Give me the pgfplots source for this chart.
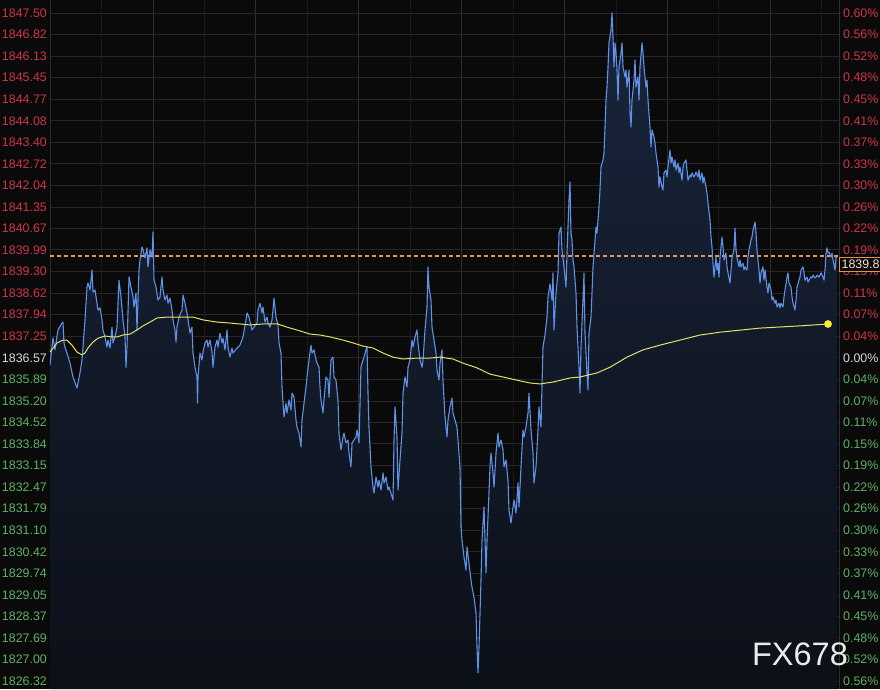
\documentclass[border=0pt]{standalone}
\usepackage{fontspec}
\setmainfont{Liberation Sans}
\usepackage{pgfplots}
\pgfplotsset{compat=1.18}
\usepackage{pgfplotstable}
\definecolor{bg}{RGB}{10,10,10}
\definecolor{gridh}{RGB}{38,38,38}
\definecolor{gridv}{RGB}{46,46,46}
\definecolor{gridm}{RGB}{26,26,26}
\definecolor{upred}{RGB}{208,52,70}
\definecolor{dngreen}{RGB}{92,178,100}
\definecolor{neutral}{RGB}{215,215,215}
\definecolor{lineblue}{RGB}{95,145,230}
\definecolor{filltop}{RGB}{25,37,60}
\definecolor{fillbot}{RGB}{12,16,24}
\definecolor{maline}{RGB}{225,225,105}
\definecolor{madot}{RGB}{255,235,40}
\definecolor{dashorange}{RGB}{240,145,90}
\definecolor{boxorange}{RGB}{230,145,70}
\definecolor{boxtext}{RGB}{240,225,205}
\newcommand{\R}[1]{\textcolor{upred}{#1}}
\newcommand{\G}[1]{\textcolor{dngreen}{#1}}
\newcommand{\N}[1]{\textcolor{neutral}{#1}}

\pgfplotstableread{
x y
0 1836.34
3 1837.20
5 1836.82
8 1837.45
12 1837.67
13 1837.70
14 1837.04
15 1836.91
17 1836.72
20 1836.40
23 1835.96
27 1835.61
28 1835.77
30 1836.09
32 1836.50
33 1836.91
35 1837.77
37 1838.81
38 1838.94
40 1838.72
42 1839.35
43 1838.65
45 1838.72
47 1838.30
48 1838.08
50 1838.15
52 1837.77
53 1837.45
55 1837.23
57 1836.91
58 1837.13
60 1836.88
62 1837.54
63 1837.04
65 1837.23
67 1837.54
69 1839.03
71 1838.50
73 1837.77
75 1837.23
76 1836.27
77 1836.91
79 1839.13
81 1838.81
83 1838.50
84 1838.18
86 1838.62
87 1837.45
89 1839.35
90 1839.67
92 1840.08
93 1839.99
95 1839.73
97 1840.05
98 1839.45
100 1839.99
102 1839.76
103 1840.56
104 1839.03
106 1838.81
108 1838.40
110 1838.50
112 1839.13
113 1838.72
115 1838.40
117 1838.56
118 1838.30
120 1838.46
122 1838.08
123 1837.77
125 1837.45
126 1837.07
127 1837.54
129 1837.86
132 1838.08
133 1838.56
135 1838.30
137 1837.99
138 1837.77
140 1837.35
142 1837.54
143 1836.72
145 1836.27
147 1835.96
147.5 1835.13
148 1835.96
150 1836.72
152 1836.50
153 1836.75
155 1837.04
157 1837.13
158 1836.91
160 1837.13
162 1836.75
163 1836.27
165 1836.91
167 1837.13
168 1836.91
170 1837.35
172 1837.04
173 1837.19
175 1836.82
177 1837.45
178 1836.91
180 1836.59
182 1836.88
183 1836.72
187 1836.88
190 1836.97
193 1837.23
196 1837.77
197 1837.99
199 1837.86
202 1837.45
204 1837.54
207 1837.67
208 1838.08
210 1838.30
212 1837.99
213 1838.18
215 1837.70
217 1837.86
218 1837.67
220 1837.54
222 1837.77
223 1838.08
224 1838.46
226 1837.86
228 1837.61
229 1837.04
231 1836.72
232 1835.64
234 1834.69
236 1835.13
237 1834.82
239 1835.23
241 1834.91
242 1835.45
244 1835.32
246 1834.60
247 1834.37
249 1834.18
251 1833.74
252 1834.60
254 1835.13
256 1835.64
257 1835.96
259 1836.50
261 1836.97
262 1836.72
264 1836.82
266 1836.50
267 1836.40
269 1836.27
270 1835.64
271 1835.23
273 1834.82
274 1835.23
276 1835.96
278 1835.86
279 1835.32
281 1836.50
283 1836.59
284 1835.96
286 1835.86
288 1835.23
289 1834.18
291 1833.65
293 1834.06
294 1834.18
296 1833.87
298 1833.96
299 1833.55
301 1833.11
302 1833.87
304 1833.96
306 1834.06
307 1834.28
309 1833.87
311 1836.27
312 1836.40
314 1836.59
316 1836.82
317 1836.91
318 1835.45
319 1834.37
321 1833.11
323 1832.47
324 1832.28
326 1832.79
328 1832.47
329 1832.69
331 1832.38
333 1832.92
334 1832.60
336 1832.79
338 1832.38
339 1832.47
341 1832.28
343 1832.06
344 1833.96
345 1835.01
347 1834.06
348 1832.38
350 1833.33
352 1834.18
353 1835.45
355 1835.96
357 1835.64
358 1836.27
360 1836.50
362 1837.13
363 1836.91
365 1837.23
367 1837.45
368 1837.04
370 1836.50
372 1836.27
373 1836.50
375 1837.45
377 1838.18
378 1839.45
379 1838.81
381 1838.40
382 1837.54
384 1837.13
386 1836.72
387 1836.18
389 1835.86
390 1836.40
392 1836.82
393 1835.86
395 1834.69
397 1834.06
398 1834.60
400 1835.01
402 1835.29
403 1834.82
405 1834.60
407 1834.37
408 1833.96
410 1833.11
411 1831.20
412 1830.79
414 1830.25
416 1829.84
417 1830.57
419 1830.06
421 1829.52
422 1829.30
424 1828.98
426 1828.48
427 1827.40
428 1826.58
429 1827.40
431 1829.52
432 1830.79
434 1831.84
436 1829.75
437 1830.79
438 1831.52
440 1833.11
441 1833.55
443 1832.92
444 1832.47
446 1833.55
448 1834.18
449 1833.74
451 1833.96
453 1833.65
454 1833.11
456 1833.33
458 1832.69
459 1831.74
461 1831.33
463 1831.84
464 1832.06
466 1831.65
468 1832.60
469 1831.84
471 1833.11
473 1834.28
474 1834.06
476 1834.37
478 1834.82
479 1835.45
481 1834.28
483 1833.55
484 1832.60
486 1833.11
488 1834.28
489 1835.01
491 1834.37
492 1835.70
493 1836.91
495 1837.29
497 1837.86
498 1838.50
500 1838.91
502 1838.40
503 1839.26
504 1837.45
506 1838.62
508 1839.26
509 1840.52
511 1840.71
512 1839.99
514 1839.45
516 1838.81
517 1839.89
519 1841.57
520 1842.14
521 1840.52
522 1840.30
523 1839.67
524 1839.45
526 1838.62
527 1837.54
529 1836.27
530 1835.45
531 1836.91
533 1838.40
534 1839.26
535 1837.35
537 1836.09
538 1835.55
539 1837.35
541 1837.86
542 1838.62
543 1839.45
545 1840.30
546 1840.71
547 1840.52
549 1841.35
550 1841.89
551 1842.62
553 1842.84
554 1843.06
555 1843.88
556 1844.74
557 1845.15
558 1845.79
559 1846.55
561 1846.96
562 1847.50
563 1846.74
564 1845.79
565 1846.55
566 1846.23
567 1845.69
568 1844.74
569 1845.79
571 1846.23
572 1846.55
573 1845.79
575 1845.47
576 1845.69
577 1845.15
579 1845.69
580 1844.33
581 1843.88
582 1844.74
584 1845.37
585 1846.01
586 1845.15
588 1845.47
589 1844.74
590 1845.79
592 1846.55
593 1846.23
594 1845.79
596 1845.15
597 1845.37
598 1844.74
600 1843.88
601 1843.25
602 1843.79
604 1843.57
605 1843.38
606 1843.06
608 1842.62
609 1841.98
610 1842.30
612 1841.98
613 1841.89
614 1842.43
616 1842.52
617 1842.30
618 1842.62
620 1843.15
621 1842.74
622 1842.93
624 1842.62
625 1842.84
626 1842.52
628 1842.74
629 1842.43
630 1842.62
632 1842.20
633 1842.62
634 1842.74
636 1842.84
637 1842.52
638 1842.20
640 1842.36
641 1842.30
642 1842.43
644 1842.30
645 1842.36
646 1842.46
648 1842.30
649 1842.52
650 1842.20
652 1842.43
653 1842.11
654 1842.30
656 1841.98
657 1841.79
658 1841.47
660 1840.94
661 1840.40
662 1840.08
663 1839.57
664 1839.13
666 1839.76
667 1839.35
668 1839.57
669 1839.13
670 1839.76
672 1840.40
673 1840.08
674 1839.67
676 1839.89
677 1839.45
678 1839.26
680 1838.94
681 1839.35
682 1839.76
684 1839.99
685 1840.68
686 1839.99
687 1839.76
689 1839.45
690 1839.67
691 1839.45
693 1839.57
694 1839.35
695 1839.45
697 1839.35
698 1839.76
699 1839.99
701 1840.30
702 1840.40
703 1840.62
705 1840.87
706 1840.52
707 1839.99
709 1839.35
710 1838.94
711 1839.26
713 1839.45
714 1839.03
715 1839.35
717 1838.81
718 1838.62
719 1838.94
721 1838.72
722 1838.40
723 1838.50
725 1838.30
726 1838.40
727 1838.18
729 1838.30
730 1838.15
731 1838.30
733 1838.18
734 1838.50
735 1838.72
737 1839.13
738 1839.26
739 1838.94
741 1838.81
742 1838.50
743 1838.30
745 1838.08
746 1838.40
747 1838.81
749 1839.03
750 1839.13
751 1839.35
753 1839.45
754 1839.26
755 1839.03
757 1839.13
758 1838.97
759 1839.03
761 1839.13
762 1839.10
763 1839.19
765 1839.10
766 1839.13
767 1839.19
769 1839.13
770 1839.19
771 1839.26
773 1839.13
774 1839.03
775 1839.35
776 1839.89
777 1840.05
778 1839.89
779 1839.92
781 1839.76
782 1839.89
783 1839.67
785 1839.35
786 1839.76
787 1839.73
}\pricedata

\pgfplotstableread{
x y
0 1836.75
7 1837.04
13 1837.13
17 1837.13
22 1836.97
27 1836.75
32 1836.66
35 1836.72
38 1836.88
43 1837.07
48 1837.19
55 1837.26
62 1837.23
67 1837.23
73 1837.29
80 1837.32
87 1837.45
93 1837.58
100 1837.70
107 1837.83
117 1837.86
130 1837.86
143 1837.86
153 1837.77
167 1837.70
180 1837.67
200 1837.61
213 1837.64
228 1837.64
237 1837.54
247 1837.45
260 1837.32
270 1837.29
280 1837.23
293 1837.13
303 1837.04
313 1836.94
323 1836.88
333 1836.72
343 1836.59
353 1836.53
367 1836.56
380 1836.56
390 1836.59
403 1836.53
413 1836.40
427 1836.25
440 1836.05
453 1835.96
467 1835.86
480 1835.77
490 1835.74
503 1835.80
520 1835.93
530 1835.96
547 1836.09
560 1836.27
577 1836.59
593 1836.82
610 1836.97
630 1837.13
650 1837.29
670 1837.38
710 1837.51
750 1837.58
778 1837.64
}\madata

\begin{document}
\begin{tikzpicture}[x=1pt,y=1pt]
\path[use as bounding box] (0,0) rectangle (880,689);
\fill[bg] (0,0) rectangle (880,689);
\begin{axis}[
  at={(50pt,0pt)}, anchor=south west,
  width=789pt, height=689pt, scale only axis,
  xmin=0, xmax=789, ymin=1826.07, ymax=1847.91,
  axis line style={draw=none},
  major tick length=0pt, minor tick length=0pt,
  tick style={draw=none},
  xtick={102.9,205.8,308.7,411.6,514.5,617.4,720.3},
  minor xtick={51.45,154.35,257.25,360.15,463.05,565.95,668.85,771.75},
  xticklabels={},
  extra x ticks={0,789},
  extra x tick labels={},
  extra x tick style={grid=major, major grid style={gridv, line width=1pt}},
  xmajorgrids, xminorgrids, ymajorgrids,
  major x grid style={gridv, line width=0.8pt},
  minor x grid style={gridm, line width=0.8pt},
  major y grid style={gridh, line width=0.8pt},
  ytick={1847.50,1846.82,1846.13,1845.45,1844.77,1844.08,1843.40,1842.72,1842.04,1841.35,1840.67,1839.99,1839.30,1838.62,1837.94,1837.25,1836.57,1835.89,1835.20,1834.52,1833.84,1833.15,1832.47,1831.79,1831.10,1830.42,1829.74,1829.05,1828.37,1827.69,1827.00,1826.32},
  yticklabels={\R{1847.50},\R{1846.82},\R{1846.13},\R{1845.45},\R{1844.77},\R{1844.08},\R{1843.40},\R{1842.72},\R{1842.04},\R{1841.35},\R{1840.67},\R{1839.99},\R{1839.30},\R{1838.62},\R{1837.94},\R{1837.25},\N{1836.57},\G{1835.89},\G{1835.20},\G{1834.52},\G{1833.84},\G{1833.15},\G{1832.47},\G{1831.79},\G{1831.10},\G{1830.42},\G{1829.74},\G{1829.05},\G{1828.37},\G{1827.69},\G{1827.00},\G{1826.32}},
  yticklabel style={font=\fontsize{12.4}{14}\selectfont, anchor=east, inner sep=0pt, xshift=-3pt},
]
\addplot[draw=none, top color=filltop, bottom color=fillbot] table[x=x,y=y] {\pricedata} -- (axis cs:787,1826.07) -- (axis cs:0,1826.07) -- cycle;
\addplot[draw=dashorange, line width=1.3pt, dash pattern=on 4pt off 3pt, mark=none] coordinates {(0,1839.8) (789,1839.8)};
\addplot[lineblue, line width=1.1pt, line join=round] table[x=x,y=y] {\pricedata};
\addplot[maline, line width=1pt] table[x=x,y=y] {\madata};
\addplot[only marks, mark=*, mark size=3.6pt, mark options={fill=madot, draw=madot}] coordinates {(778,1837.64)};
\end{axis}
\begin{axis}[
  at={(50pt,0pt)}, anchor=south west,
  width=789pt, height=689pt, scale only axis,
  xmin=0, xmax=789, ymin=1826.07, ymax=1847.91,
  hide x axis, axis y line*=right,
  y axis line style={draw=none},
  major tick length=0pt, tick style={draw=none},
  ytick={1847.50,1846.82,1846.13,1845.45,1844.77,1844.08,1843.40,1842.72,1842.04,1841.35,1840.67,1839.99,1839.30,1838.62,1837.94,1837.25,1836.57,1835.89,1835.20,1834.52,1833.84,1833.15,1832.47,1831.79,1831.10,1830.42,1829.74,1829.05,1828.37,1827.69,1827.00,1826.32},
  yticklabels={\R{0.60\%},\R{0.56\%},\R{0.52\%},\R{0.48\%},\R{0.45\%},\R{0.41\%},\R{0.37\%},\R{0.33\%},\R{0.30\%},\R{0.26\%},\R{0.22\%},\R{0.19\%},\R{0.15\%},\R{0.11\%},\R{0.07\%},\R{0.04\%},\N{0.00\%},\G{0.04\%},\G{0.07\%},\G{0.11\%},\G{0.15\%},\G{0.19\%},\G{0.22\%},\G{0.26\%},\G{0.30\%},\G{0.33\%},\G{0.37\%},\G{0.41\%},\G{0.45\%},\G{0.48\%},\G{0.52\%},\G{0.56\%}},
  yticklabel style={font=\fontsize{12.4}{14}\selectfont, anchor=west, inner sep=0pt, xshift=4pt},
]
\end{axis}
\node[draw=boxorange, fill=bg, line width=1.3pt, anchor=north west, inner xsep=2.5pt, inner ysep=2.5pt, text=boxtext, font=\fontsize{12.4}{14}\selectfont] at (838.5,432) {1839.8};
\node[anchor=base, text=white!92!black, font=\fontsize{32.5}{34}\selectfont] at (800,24) {FX678};
\end{tikzpicture}
\end{document}
